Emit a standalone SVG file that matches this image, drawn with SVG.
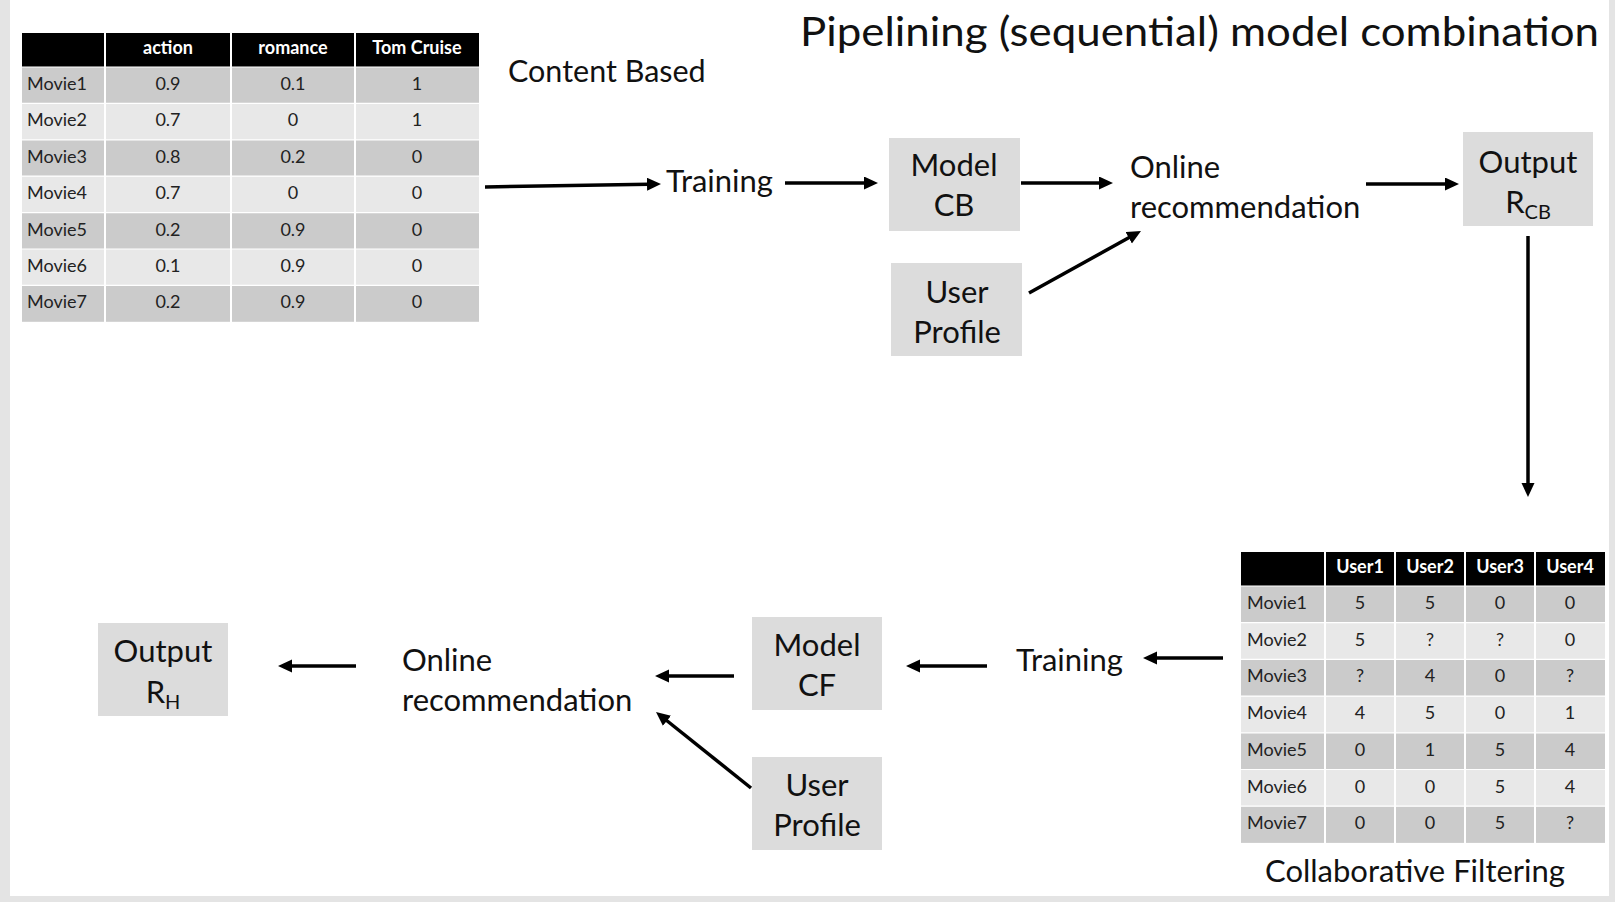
<svg xmlns="http://www.w3.org/2000/svg" width="1615" height="902" viewBox="0 0 1615 902">
<defs>
<style>
text{font-family:Lato,'Liberation Sans',sans-serif;fill:#111}
.lbl{font-size:31px;text-anchor:middle}
.big{font-size:31px}
.th{font-size:18px;font-weight:bold;fill:#fff;text-anchor:middle}
.td{font-size:18px;text-anchor:middle;fill:#222}
.tl{font-size:18px;fill:#222}
.box{fill:#dcdcdc}
.dk{fill:#cbcbcb}
.lt{fill:#e8e8e8}
.sep{stroke:#fff;stroke-width:2}
.hsep{stroke:#fff;stroke-width:1.2}
.arr{stroke:#000;stroke-width:3.5;fill:none;marker-end:url(#ah)}
.sub{font-size:20px}
</style>
<marker id="ah" markerUnits="userSpaceOnUse" markerWidth="16" markerHeight="14" refX="2" refY="6.5" orient="auto" viewBox="0 0 16 14">
<path d="M0,0 L14,6.5 L0,13 z" fill="#000"/>
</marker>
</defs>
<rect x="0" y="0" width="1615" height="902" fill="#e4e4e4"/>
<rect x="10" y="0" width="1599" height="896" fill="#fff"/>

<g id="title"><text x="800" y="46" font-size="40" textLength="799" lengthAdjust="spacingAndGlyphs">Pipelining (sequential) model combination</text></g>

<g id="table-cb">
<rect x="22" y="33" width="457" height="34" fill="#000"/>
<rect class="dk" x="22" y="67" width="457" height="36.4"/>
<rect class="lt" x="22" y="103.4" width="457" height="36.4"/>
<rect class="dk" x="22" y="139.8" width="457" height="36.4"/>
<rect class="lt" x="22" y="176.2" width="457" height="36.4"/>
<rect class="dk" x="22" y="212.6" width="457" height="36.4"/>
<rect class="lt" x="22" y="249" width="457" height="36.4"/>
<rect class="dk" x="22" y="285.4" width="457" height="36.4"/>
<line class="sep" x1="105" y1="33" x2="105" y2="322"/>
<line class="sep" x1="231" y1="33" x2="231" y2="322"/>
<line class="sep" x1="355" y1="33" x2="355" y2="322"/>
<line class="hsep" x1="22" y1="67" x2="479" y2="67"/>
<line class="hsep" x1="22" y1="103.4" x2="479" y2="103.4"/>
<line class="hsep" x1="22" y1="139.8" x2="479" y2="139.8"/>
<line class="hsep" x1="22" y1="176.2" x2="479" y2="176.2"/>
<line class="hsep" x1="22" y1="212.6" x2="479" y2="212.6"/>
<line class="hsep" x1="22" y1="249" x2="479" y2="249"/>
<line class="hsep" x1="22" y1="285.4" x2="479" y2="285.4"/>
<text class="th" x="168" y="54">action</text>
<text class="th" x="293" y="54">romance</text>
<text class="th" x="417" y="54">Tom Cruise</text>
<text class="tl" x="27" y="90">Movie1</text><text class="td" x="168" y="90">0.9</text><text class="td" x="293" y="90">0.1</text><text class="td" x="417" y="90">1</text>
<text class="tl" x="27" y="126.4">Movie2</text><text class="td" x="168" y="126.4">0.7</text><text class="td" x="293" y="126.4">0</text><text class="td" x="417" y="126.4">1</text>
<text class="tl" x="27" y="162.8">Movie3</text><text class="td" x="168" y="162.8">0.8</text><text class="td" x="293" y="162.8">0.2</text><text class="td" x="417" y="162.8">0</text>
<text class="tl" x="27" y="199.2">Movie4</text><text class="td" x="168" y="199.2">0.7</text><text class="td" x="293" y="199.2">0</text><text class="td" x="417" y="199.2">0</text>
<text class="tl" x="27" y="235.6">Movie5</text><text class="td" x="168" y="235.6">0.2</text><text class="td" x="293" y="235.6">0.9</text><text class="td" x="417" y="235.6">0</text>
<text class="tl" x="27" y="272">Movie6</text><text class="td" x="168" y="272">0.1</text><text class="td" x="293" y="272">0.9</text><text class="td" x="417" y="272">0</text>
<text class="tl" x="27" y="308.4">Movie7</text><text class="td" x="168" y="308.4">0.2</text><text class="td" x="293" y="308.4">0.9</text><text class="td" x="417" y="308.4">0</text>
</g>

<g id="content-based"><text x="508" y="82" font-size="30.5">Content Based</text></g>
<g id="training-cb"><text class="big" x="666" y="192">Training</text></g>
<g id="model-cb"><rect class="box" x="889" y="138" width="131" height="93"/><text class="lbl" x="954" y="176">Model</text><text class="lbl" x="954" y="216">CB</text></g>
<g id="online-cb"><text class="big" x="1130" y="178">Online</text><text class="big" x="1130" y="218">recommendation</text></g>
<g id="user-profile-cb"><rect class="box" x="891" y="263" width="131" height="93"/><text class="lbl" x="957" y="303">User</text><text class="lbl" x="957" y="343">Profile</text></g>
<g id="output-cb"><rect class="box" x="1463" y="132" width="130" height="94"/><text class="lbl" x="1528" y="173">Output</text><text class="lbl" x="1528" y="213">R<tspan class="sub" dy="6">CB</tspan></text></g>

<g id="table-cf">
<rect x="1241" y="552" width="364" height="34" fill="#000"/>
<rect class="dk" x="1241" y="586" width="364" height="36.7"/>
<rect class="lt" x="1241" y="622.7" width="364" height="36.7"/>
<rect class="dk" x="1241" y="659.4" width="364" height="36.7"/>
<rect class="lt" x="1241" y="696.1" width="364" height="36.7"/>
<rect class="dk" x="1241" y="732.8" width="364" height="36.7"/>
<rect class="lt" x="1241" y="769.5" width="364" height="36.7"/>
<rect class="dk" x="1241" y="806.2" width="364" height="36.7"/>
<line class="sep" x1="1325" y1="552" x2="1325" y2="843"/>
<line class="sep" x1="1395" y1="552" x2="1395" y2="843"/>
<line class="sep" x1="1465" y1="552" x2="1465" y2="843"/>
<line class="sep" x1="1535" y1="552" x2="1535" y2="843"/>
<line class="hsep" x1="1241" y1="586" x2="1605" y2="586"/>
<line class="hsep" x1="1241" y1="622.7" x2="1605" y2="622.7"/>
<line class="hsep" x1="1241" y1="659.4" x2="1605" y2="659.4"/>
<line class="hsep" x1="1241" y1="696.1" x2="1605" y2="696.1"/>
<line class="hsep" x1="1241" y1="732.8" x2="1605" y2="732.8"/>
<line class="hsep" x1="1241" y1="769.5" x2="1605" y2="769.5"/>
<line class="hsep" x1="1241" y1="806.2" x2="1605" y2="806.2"/>
<text class="th" x="1360" y="573">User1</text>
<text class="th" x="1430" y="573">User2</text>
<text class="th" x="1500" y="573">User3</text>
<text class="th" x="1570" y="573">User4</text>
<text class="tl" x="1247" y="609">Movie1</text><text class="td" x="1360" y="609">5</text><text class="td" x="1430" y="609">5</text><text class="td" x="1500" y="609">0</text><text class="td" x="1570" y="609">0</text>
<text class="tl" x="1247" y="645.7">Movie2</text><text class="td" x="1360" y="645.7">5</text><text class="td" x="1430" y="645.7">?</text><text class="td" x="1500" y="645.7">?</text><text class="td" x="1570" y="645.7">0</text>
<text class="tl" x="1247" y="682.4">Movie3</text><text class="td" x="1360" y="682.4">?</text><text class="td" x="1430" y="682.4">4</text><text class="td" x="1500" y="682.4">0</text><text class="td" x="1570" y="682.4">?</text>
<text class="tl" x="1247" y="719.1">Movie4</text><text class="td" x="1360" y="719.1">4</text><text class="td" x="1430" y="719.1">5</text><text class="td" x="1500" y="719.1">0</text><text class="td" x="1570" y="719.1">1</text>
<text class="tl" x="1247" y="755.8">Movie5</text><text class="td" x="1360" y="755.8">0</text><text class="td" x="1430" y="755.8">1</text><text class="td" x="1500" y="755.8">5</text><text class="td" x="1570" y="755.8">4</text>
<text class="tl" x="1247" y="792.5">Movie6</text><text class="td" x="1360" y="792.5">0</text><text class="td" x="1430" y="792.5">0</text><text class="td" x="1500" y="792.5">5</text><text class="td" x="1570" y="792.5">4</text>
<text class="tl" x="1247" y="829.2">Movie7</text><text class="td" x="1360" y="829.2">0</text><text class="td" x="1430" y="829.2">0</text><text class="td" x="1500" y="829.2">5</text><text class="td" x="1570" y="829.2">?</text>
</g>
<g id="collab-filtering"><text class="big" x="1265" y="882">Collaborative Filtering</text></g>

<g id="training-cf"><text class="big" x="1016" y="671">Training</text></g>
<g id="model-cf"><rect class="box" x="752" y="617" width="130" height="93"/><text class="lbl" x="817" y="656">Model</text><text class="lbl" x="817" y="696">CF</text></g>
<g id="online-cf"><text class="big" x="402" y="671">Online</text><text class="big" x="402" y="711">recommendation</text></g>
<g id="user-profile-cf"><rect class="box" x="752" y="757" width="130" height="93"/><text class="lbl" x="817" y="796">User</text><text class="lbl" x="817" y="836">Profile</text></g>
<g id="output-h"><rect class="box" x="98" y="623" width="130" height="93"/><text class="lbl" x="163" y="662">Output</text><text class="lbl" x="163" y="703">R<tspan class="sub" dy="6">H</tspan></text></g>

<g id="connectors">
<line class="arr" x1="485" y1="187" x2="649" y2="184.2"/>
<line class="arr" x1="785" y1="183" x2="866" y2="183"/>
<line class="arr" x1="1021" y1="183" x2="1101" y2="183"/>
<line class="arr" x1="1029" y1="293" x2="1130.5" y2="236.8"/>
<line class="arr" x1="1366" y1="184" x2="1447" y2="184"/>
<line class="arr" x1="1528" y1="236" x2="1528" y2="485"/>
<line class="arr" x1="1223" y1="658" x2="1155" y2="658"/>
<line class="arr" x1="987" y1="666" x2="918" y2="666"/>
<line class="arr" x1="734" y1="676" x2="667" y2="676"/>
<line class="arr" x1="751" y1="788" x2="665.4" y2="719.5"/>
<line class="arr" x1="356" y1="666" x2="290" y2="666"/>
</g>
</svg>
